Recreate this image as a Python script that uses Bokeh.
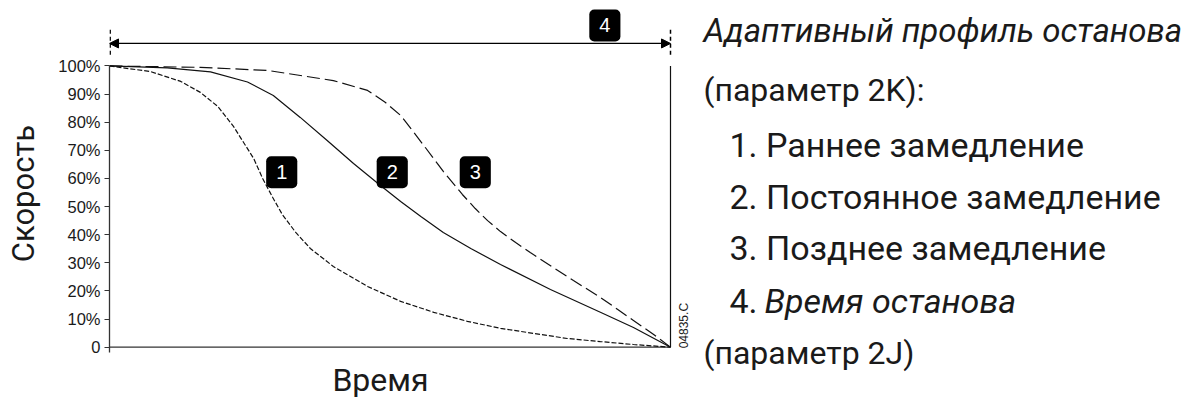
from math import pi
from bokeh.plotting import figure
from bokeh.layouts import row
from bokeh.models import Range1d, LinearAxis, FixedTicker, Label, Arrow, NormalHead
from bokeh.embed import file_html
from bokeh.resources import INLINE

# ---------------- data ----------------
# time in % of stop time, speed in %
early_x = [0, 7.3, 12.7, 16.2, 19.3, 22.1, 25.7, 27.3, 29.1, 30.8, 33.2, 35.8, 39.9, 46.0, 51.9, 57.8, 63.8, 69.7, 75.6, 81.6, 87.5, 93.4, 100]
early_y = [100, 98.0, 94.5, 90.6, 85.6, 78.5, 67.1, 60.0, 53.2, 47.2, 40.8, 35.1, 28.7, 21.6, 16.3, 12.4, 9.2, 6.7, 4.9, 3.1, 2.0, 0.96, 0]

const_x = [0, 10.3, 18.0, 24.6, 29.2, 34.0, 38.8, 43.5, 48.3, 51.9, 55.5, 59.5, 64.4, 69.7, 78.6, 87.5, 93.4, 100]
const_y = [100, 99.3, 97.9, 94.3, 89.5, 81.7, 73.5, 65.3, 57.5, 51.8, 46.5, 40.8, 35.1, 29.4, 20.5, 12.4, 7.0, 0]

late_x = [0, 16.2, 28.2, 39.9, 46.0, 49.2, 51.9, 54.0, 56.3, 59.5, 62.9, 65.2, 67.4, 69.7, 72.4, 75.0, 79.1, 82.7, 87.5, 90.6, 93.4, 97.0, 100]
late_y = [100, 99.5, 98.4, 94.8, 91.3, 87.0, 82.4, 77.0, 71.0, 62.5, 54.3, 49.3, 45.0, 41.1, 37.2, 33.7, 28.3, 23.7, 17.7, 13.4, 9.5, 4.5, 0]

y_ticks = [0, 10, 20, 30, 40, 50, 60, 70, 80, 90, 100]
y_tick_labels = ["0", "10%", "20%", "30%", "40%", "50%", "60%", "70%", "80%", "90%", "100%"]

stop_start = 0
stop_end = 100
speed_min = 0
speed_max = 100

badge_text = ["1", "2", "3", "4"]
badge_x = [30.7, 50.4, 65.2, 88.3]
badge_y = [62.2, 62.2, 62.2, 114.4]

x_title = "Время"
y_title = "Скорость"
drawing_code = "04835.C"
legend_title = "Адаптивный профиль останова"
legend_param1 = "(параметр 2K):"
legend_items = ["1. Раннее замедление", "2. Постоянное замедление", "3. Позднее замедление"]
legend_item4_num = "4. "
legend_item4_text = "Время останова"
legend_param2 = "(параметр 2J)"

# ---------------- styling ----------------
INK = "#1a1a1a"
DIN = "Roboto"
H = 410
STRIP_W = 50
CHART_W = 1184 - STRIP_W

# ---------------- left strip with the vertical title ----------------
strip = figure(width=STRIP_W, height=H, x_range=Range1d(0, STRIP_W), y_range=Range1d(H, 0),
               x_axis_type=None, y_axis_type=None, output_backend="svg", toolbar_location=None,
               min_border=0)
strip.outline_line_color = None
strip.add_layout(Label(x=23, y=193, text=y_title, angle=pi / 2, text_align="center",
                       text_baseline="alphabetic", text_font=DIN, text_font_size="31px",
                       text_color=INK))

# ---------------- chart ----------------
px_x = 5.61
px_y = 2.8125
frame_left = 109 - STRIP_W
x_end = (1184 - 109) / px_x
y_top = 346.7 / px_y
y_bot = (346.7 - H) / px_y

p = figure(width=CHART_W, height=H, x_range=Range1d(0, x_end), y_range=Range1d(y_bot, y_top),
           output_backend="svg", toolbar_location=None, x_axis_type=None, y_axis_type=None,
           min_border_left=frame_left, min_border_right=0, min_border_top=0, min_border_bottom=0)
p.outline_line_color = None

yaxis = LinearAxis(ticker=FixedTicker(ticks=y_ticks, minor_ticks=[]), bounds=(-1.8, speed_max),
                   major_label_overrides={t: l for t, l in zip(y_ticks, y_tick_labels)},
                   major_label_text_font="Liberation Sans", major_label_text_font_size="16.5px",
                   major_label_text_color=INK, major_label_standoff=4,
                   major_tick_out=5, major_tick_in=0, minor_tick_line_color=None,
                   axis_line_color="#333333", axis_line_width=1.3, major_tick_line_color="#333333")
p.add_layout(yaxis, "left")

# time axis line and stop-time boundary
p.segment(x0=[stop_start], y0=[speed_min], x1=[stop_end], y1=[speed_min], line_color="#333333", line_width=1.3)
p.segment(x0=[stop_end], y0=[speed_min], x1=[stop_end], y1=[speed_max], line_color="#111111", line_width=1.2)

# curves
p.line(early_x, early_y, line_color="#111111", line_width=1.2, line_dash="5 2")
p.line(const_x, const_y, line_color="#111111", line_width=1.2)
p.line(late_x, late_y, line_color="#111111", line_width=1.2, line_dash="13 5")

# stop-time dimension arrow
arrow_y = 108.0
p.add_layout(Arrow(x_start=stop_start, y_start=arrow_y, x_end=stop_end, y_end=arrow_y,
                   start=NormalHead(size=9, fill_color="black", line_color="black"),
                   end=NormalHead(size=9, fill_color="black", line_color="black"),
                   line_color="black", line_width=1.3))
p.segment(x0=[stop_start + 0.12, stop_end], y0=[104.0, 104.0], x1=[stop_start + 0.12, stop_end], y1=[113.6, 113.6],
          line_color="black", line_width=1.5, line_dash="4 3")

# badges
for t, bx, by in zip(badge_text, badge_x, badge_y):
    p.add_layout(Label(x=bx, y=by, text=t, text_align="center", text_baseline="middle",
                       text_color="white", text_font="Liberation Sans", text_font_size="20px",
                       background_fill_color="black", border_radius=5, padding=(10, 9)))

# time title and drawing code
p.add_layout(Label(x=(380 - 109) / px_x, y=-11.8, text=x_title, text_align="center", text_baseline="alphabetic",
                   text_font=DIN, text_font_size="32px", text_color=INK))
p.add_layout(Label(x=stop_end, y=-0.4, x_offset=6, text=drawing_code, angle=pi / 2, text_align="left",
                   text_baseline="top", text_font="Liberation Sans", text_font_size="12px", text_color=INK))

# right-hand legend text
TX0 = (703 - 109) / px_x
TX1 = (729 - 109) / px_x
TX2 = (764 - 109) / px_x
def lab(x, y, text, size, italic=False):
    p.add_layout(Label(x=x, y=y, text=text, text_align="left", text_baseline="alphabetic",
                       text_font=DIN, text_font_size=size, text_color=INK,
                       text_font_style="italic" if italic else "normal"))

lab(TX0, 112.6, legend_title, "33px", italic=True)
lab(TX0, 91.6, legend_param1, "32px")
for yy, item in zip([72.0, 53.5, 35.1], legend_items):
    lab(TX1, yy, item, "34px")
lab(TX1, 16.6, legend_item4_num, "34px")
lab(TX2, 16.6, legend_item4_text, "34px", italic=True)
lab(TX0, -2.0, legend_param2, "32px")

layout = row(strip, p)
open("out.html", "w").write(file_html(layout, INLINE))
